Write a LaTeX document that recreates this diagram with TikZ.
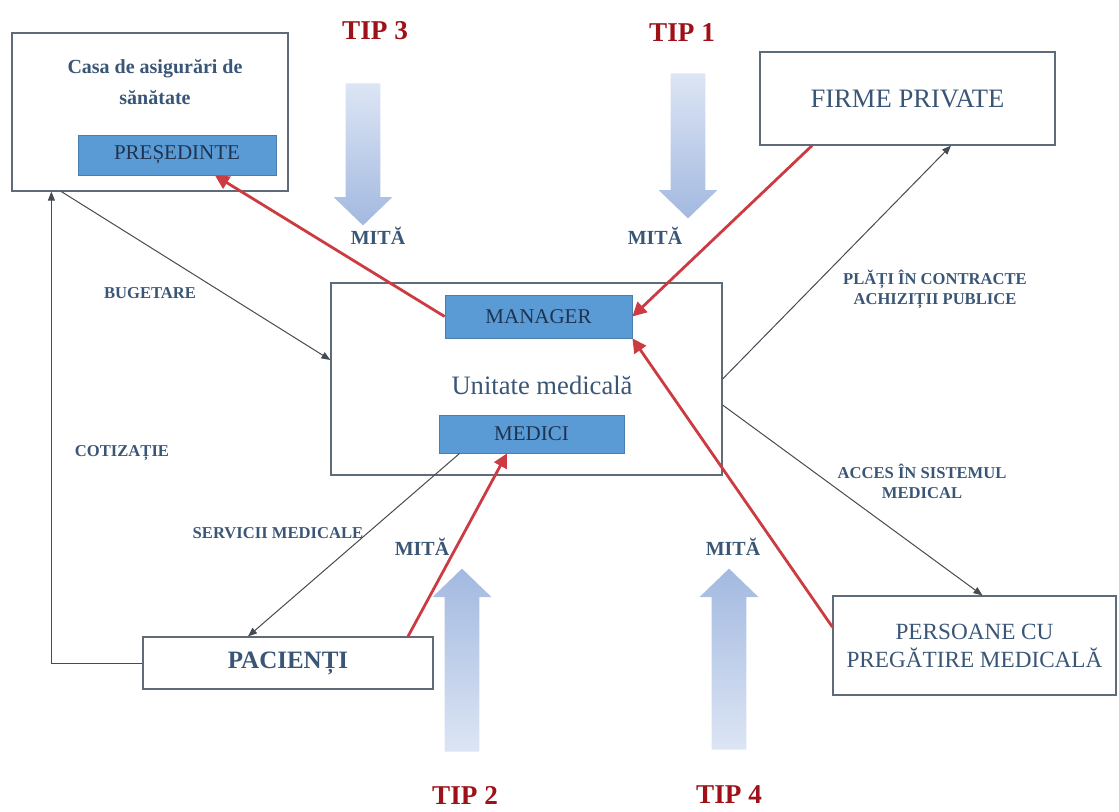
\documentclass[tikz,border=0pt]{standalone}
\usepackage{fontspec}
\setmainfont{Liberation Serif}
\usetikzlibrary{arrows.meta,shapes.arrows}

\definecolor{lblblue}{HTML}{3A5676}
\definecolor{boxgray}{HTML}{5E6B78}
\definecolor{roleblue}{HTML}{5B9BD5}
\definecolor{roleedge}{HTML}{4A7DB0}
\definecolor{roletext}{HTML}{1E3350}
\definecolor{tipred}{HTML}{9E1118}
\definecolor{bribe}{HTML}{CC3A42}
\definecolor{flowgray}{HTML}{454B52}
\definecolor{arrowhead}{HTML}{A3B9E0}
\definecolor{arrowtail}{HTML}{DCE5F4}

\begin{document}
\begin{tikzpicture}
	[
	 x = 0.5pt, y = -0.5pt,
	 every node/.style = {inner sep = 0pt, align = center},
	 frame/.style = {draw = boxgray, line width = 0.6pt, fill = white},
	 role/.style  = {draw = roleedge, fill = roleblue, text = roletext,
	                 font = \fontsize{10.5}{12}\selectfont},
	 title/.style = {text = lblblue, font = \fontsize{13.3}{15}\selectfont},
	 lbl/.style   = {text = lblblue, font = \bfseries\fontsize{8.3}{10}\selectfont},
	 bribe/.style = {text = lblblue, font = \bfseries\fontsize{10}{12}\selectfont},
	 tip/.style   = {text = tipred, font = \bfseries\fontsize{13.6}{15}\selectfont},
	 bigarrow/.style = {single arrow, inner xsep = 0pt, inner ysep = 8.5pt,
	                    minimum width = 29pt,
	                    single arrow head extend = 6pt,
	                    single arrow tip angle = 92},
	 arrowdown/.style = {bigarrow, rotate = -90, top color = arrowtail, bottom color = arrowhead},
	 arrowup/.style   = {bigarrow, rotate = 90, top color = arrowhead, bottom color = arrowtail},
	 paid/.style = {draw = bribe, line width = 1.4pt,
	                -{Triangle[length = 7pt, width = 7pt]}},
	 flow/.style = {draw = flowgray, line width = 0.5pt,
	                -{Triangle[length = 4.5pt, width = 3.5pt]}}
	]
	\useasboundingbox (0,0) rectangle (1119,811);

	% boxes
	\node [frame, minimum width = 138pt, minimum height = 79pt] (casa) at (150,112) {};
	\node [text = lblblue, font = \bfseries\fontsize{10}{15.5}\selectfont] (casatxt) at (155,82)
	      {Casa de asigurări de\\sănătate};
	\node [role, minimum width = 99pt, minimum height = 20pt] (pres) at (177,155) {PREȘEDINTE};

	\node [frame, minimum width = 147.5pt, minimum height = 46.5pt, title] (firme) at (907.5,98.5)
	      {FIRME PRIVATE};

	\node [frame, minimum width = 195.5pt, minimum height = 96pt] (unit) at (526.5,379) {};
	\node [title] (unittxt) at (542,385) {Unitate medicală};
	\node [role, minimum width = 93.5pt, minimum height = 21.5pt] (manager) at (538.5,316.5) {MANAGER};
	\node [role, minimum width = 92.5pt, minimum height = 19pt] (medici) at (531.5,434) {MEDICI};

	\node [frame, minimum width = 145pt, minimum height = 26pt, text = lblblue,
	       font = \bfseries\fontsize{12.5}{15}\selectfont] (pacienti) at (288,663) {PACIENȚI};
	\node [frame, minimum width = 141.5pt, minimum height = 49.5pt, text = lblblue,
	       font = \fontsize{11.6}{14}\selectfont] (persoane) at (974.5,645.5)
	      {PERSOANE CU\\PREGĂTIRE MEDICALĂ};

	% tipuri de mita
	\node [tip] (tip3) at (375,31) {TIP 3};
	\node [tip] (tip1) at (682,33) {TIP 1};
	\node [tip] (tip2) at (465,795) {TIP 2};
	\node [tip] (tip4) at (729,795) {TIP 4};

	\node [arrowdown, minimum height = 71pt] (arr3) at (363,146) {};
	\node [arrowdown, minimum height = 72.5pt] (arr1) at (688,137.5) {};
	\node [arrowup, minimum height = 91.5pt] (arr2) at (462,668.5) {};
	\node [arrowup, minimum height = 90.5pt] (arr4) at (729,667.5) {};

	\node [bribe] (m3) at (378,236) {MITĂ};
	\node [bribe] (m1) at (655,236) {MITĂ};
	\node [bribe] (m2) at (422,547) {MITĂ};
	\node [bribe] (m4) at (733,547) {MITĂ};

	% fluxuri
	\draw [flow] ([xshift = 25pt]casa.south west) -- ([yshift = 9.5pt]unit.west);
	\draw [flow] (pacienti.west) -| ([xshift = 20pt]casa.south west);
	\draw [flow] ([xshift = 10.5pt]medici.south west) -- ([xshift = -20pt]pacienti.north);
	\draw [flow] (unit.east) -- ([xshift = 21.75pt]firme.south);
	\draw [flow] ([yshift = -13pt]unit.east) -- ([xshift = 4pt]persoane.north);

	\draw [paid] (manager.west) -- ([xshift = 19pt]pres.south);
	\draw [paid] ([xshift = -47.75pt]firme.south) -- (manager.east);
	\draw [paid] ([yshift = 9.25pt]persoane.west) -- (manager.south east);
	\draw [paid] ([xshift = 60pt]pacienti.north) -- ([xshift = -12.25pt]medici.south);

	\node [lbl] (bug) at (150,293) {BUGETARE};
	\node [lbl] (cot) at (122,453) {COTIZAȚIE};
	\node [lbl] (serv) at (278,533) {SERVICII MEDICALE};
	\node [lbl] (plati) at (935,289) {PLĂȚI ÎN CONTRACTE\\ACHIZIȚII PUBLICE};
	\node [lbl] (acces) at (922,481) {ACCES ÎN SISTEMUL\\MEDICAL};
\end{tikzpicture}
\end{document}
